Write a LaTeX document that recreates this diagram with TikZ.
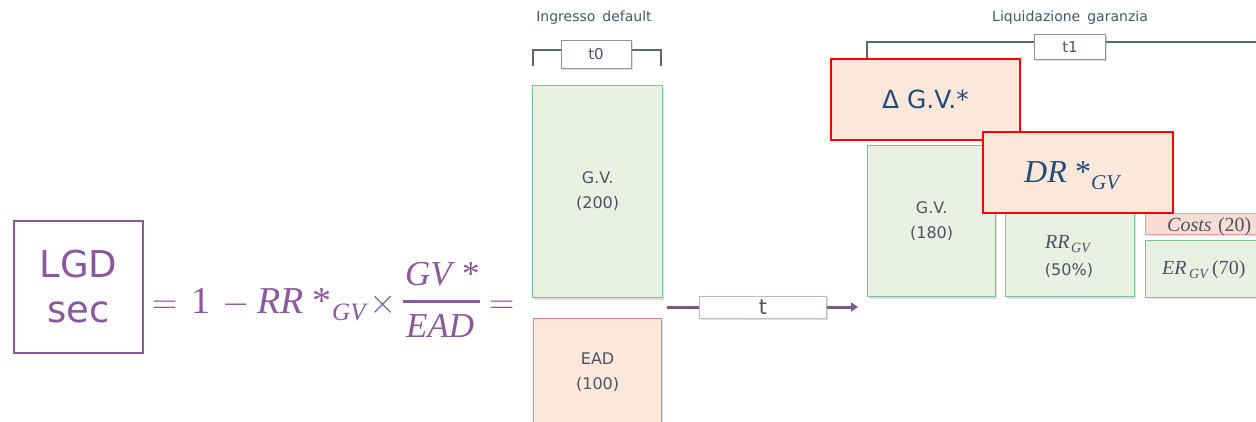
\RequirePackage{fix-cm}
\documentclass[tikz,border=0pt]{standalone}
\usepackage[no-math]{fontspec}
\setmainfont{DejaVu Sans}
\newfontfamily\lserif{Liberation Serif}
\newcommand\ci{\lserif\itshape}
\usetikzlibrary{shadows,arrows.meta}
\definecolor{purp}{HTML}{8A589C}
\definecolor{gfill}{HTML}{EAF0E2}
\definecolor{gline}{HTML}{78C496}
\definecolor{pfill}{HTML}{FCE8DA}
\definecolor{eadline}{HTML}{D68A8C}
\definecolor{txt}{HTML}{4A5464}
\definecolor{dblue}{HTML}{234B7A}
\definecolor{brk}{HTML}{5F6670}
\definecolor{arr}{HTML}{7B5886}
\definecolor{cfill}{HTML}{F7DDD4}
\definecolor{cline}{HTML}{E2A79E}
\tikzset{
  shd/.style={drop shadow={shadow xshift=1.5pt, shadow yshift=-2pt, opacity=0.25}},
  gbox/.style={draw=gline, fill=gfill, line width=1.2pt, shd, anchor=north west, inner sep=0pt},
  eadbox/.style={draw=eadline, fill=pfill, line width=1.2pt, shd, anchor=north west, inner sep=0pt},
  redbox/.style={draw=red, fill=pfill, line width=1.8pt, anchor=north west, inner sep=0pt},
  tbox/.style={draw=brk!70, fill=white, line width=0.8pt, shd, inner sep=0pt, text=txt},
  boxtxt/.style={text=txt, align=center, font=\fontsize{16}{25}\selectfont},
  captxt/.style={text=txt, font=\fontsize{14}{16}\selectfont},
  brline/.style={draw=brk, line width=1.2pt},
  fml/.style={text=purp, anchor=base west, inner sep=0pt, font=\fontsize{#1}{#1}\selectfont},
  btx/.style={anchor=base west, inner sep=0pt, font=\fontsize{#1}{#1}\selectfont},
}
\begin{document}
\begin{tikzpicture}[x=1pt,y=-1pt]
\useasboundingbox (0,0) rectangle (1256,422);
\clip (0,0) rectangle (1256,422);

% LGD box and formula
\node[draw=purp, line width=1.8pt, minimum width=129, minimum height=132, anchor=north west, inner sep=0pt,
  text=purp, align=center, font=\fontsize{37}{45}\selectfont] (lgd) at (13,220) {LGD\\sec};
\node[fml=35] (eqa) at (152,313) {$=$};
\node[fml=38] (one) at (191,313) {\lserif 1};
\node[fml=35] (minus) at (222,313) {$-$};
\node[fml=38] (rr) at (257,313) {\ci RR};
\node[fml=38] (star) at (312,313) {\lserif *};
\node[fml=25] (gvsub) at (332,320) {\ci GV};
\node[fml=35] (times) at (369,313) {$\times$};
\node[fml=35] (num) at (405,285) {\ci GV};
\node[fml=35] (numstar) at (462,285) {\lserif *};
\node[fml=35] (den) at (406,337) {\ci EAD};
\coordinate (barL) at (403,301);
\coordinate (barR) at (480,301);
\draw[purp, line width=3pt] (barL) -- (barR);
\node[fml=35] (eqb) at (489,313) {$=$};

% t0 column
\node[captxt] (ingresso) at (594,18) {Ingresso\enspace default};
\coordinate (b0l) at (533,66);
\coordinate (b0r) at (661,66);
\draw[brline] (b0l) -- (533,50) -- (661,50) -- (b0r);
\node[tbox, minimum width=70, minimum height=28, font=\fontsize{15}{18}\selectfont] (t0) at (596,54) {t0};
\node[gbox, minimum width=130, minimum height=212, boxtxt] (gv0) at (532,85) {G.V.\\(200)};
\node[eadbox, minimum width=128, minimum height=108, boxtxt] (ead) at (533,318) {EAD\\(100)};

% time arrow
\coordinate (aS) at (667,307);
\coordinate (aE) at (858,307);
\draw[draw=arr, line width=3pt, -{Triangle[length=7pt,width=9pt]}] (aS) -- (aE);
\node[tbox, draw=arr!45, minimum width=127, minimum height=22, font=\fontsize{21}{24}\selectfont] (t) at (763,307) {t};

% t1 column
\node[captxt] (liquid) at (1070,18) {Liquidazione\enspace garanzia};
\coordinate (b1l) at (867,60);
\coordinate (b1r) at (1262,42);
\draw[brline] (b1l) -- (867,42) -- (b1r);
\node[tbox, minimum width=71, minimum height=25, font=\fontsize{15}{18}\selectfont] (t1) at (1070,47) {t1};

\node[gbox, minimum width=128, minimum height=151, boxtxt] (gv1) at (867,145) {G.V.\\(180)};
\node[gbox, minimum width=129, minimum height=151] (rrbox) at (1005,145) {};
\node[btx=20, text=txt] (rrt) at (1045,249) {\ci RR};
\node[btx=14, text=txt] (rrsub) at (1071,253) {\ci GV};
\node[boxtxt] (rrpct) at (1069,270) {(50\%)};

\node[draw=cline, fill=cfill, line width=0.8pt, minimum width=120, minimum height=21, anchor=north west, shd] (costs) at (1145,213) {};
\node[btx=20, text=txt] (costst) at (1167,232) {{\ci Costs} \lserif(20)};
\node[gbox, minimum width=120, minimum height=57, line width=0.8pt] (er) at (1145,240) {};
\node[btx=20, text=txt] (ert) at (1162,274) {\ci ER};
\node[btx=14, text=txt] (ersub) at (1189,278) {\ci GV};
\node[btx=20, text=txt] (erv) at (1212,274) {\lserif (70)};

\node[redbox, minimum width=189, minimum height=81, text=dblue, font=\fontsize{25}{30}\selectfont] (dgv) at (830,58) {Δ G.V.*};
\node[redbox, minimum width=190, minimum height=81] (dr) at (982,131) {};
\node[btx=32, text=dblue] (drt) at (1024,183) {\ci DR};
\node[btx=32, text=dblue] (drstar) at (1075,183) {\lserif *};
\node[btx=21, text=dblue] (drsub) at (1091,190) {\ci GV};
\end{tikzpicture}
\end{document}
